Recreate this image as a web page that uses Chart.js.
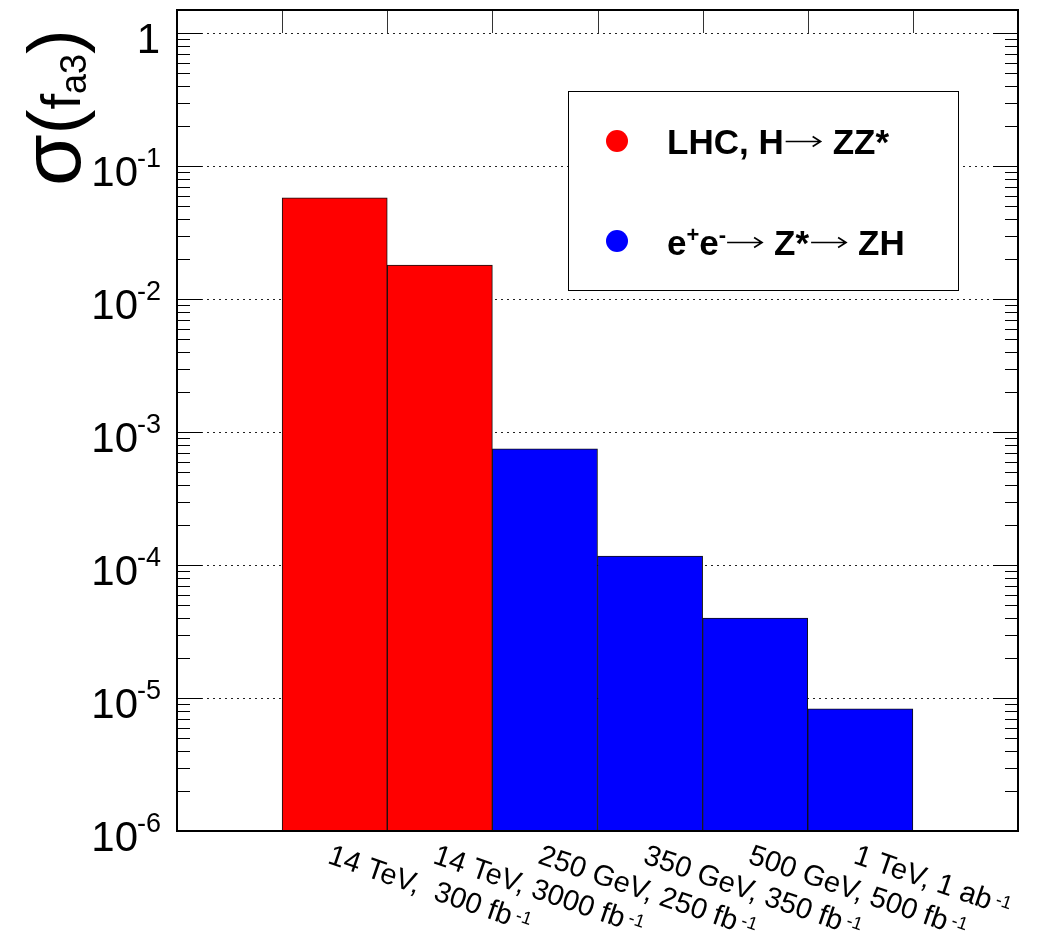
<!DOCTYPE html>
<html>
<head>
<meta charset="utf-8">
<script src="https://cdn.jsdelivr.net/npm/chart.js@4/dist/chart.umd.min.js"></script>
<style>
  body { margin: 0; background: #fff; }
</style>
</head>
<body>
<canvas id="myChart" width="1048" height="934"></canvas>
<script>
// bins: first and last are empty
var categories = ['', '14 TeV,  300 fb', '14 TeV, 3000 fb', '250 GeV, 250 fb', '350 GeV, 350 fb', '500 GeV, 500 fb', '1 TeV, 1 ab', ''];
var categorySup = ['', '-1', '-1', '-1', '-1', '-1', '-1', ''];
var lhcValues = [null, 0.058, 0.0181, null, null, null, null, null];
var eeValues = [null, null, null, 7.5e-4, 1.17e-4, 4.0e-5, 8.3e-6, null];
var yDecades = [0, -1, -2, -3, -4, -5, -6];

var FONT = '"Liberation Sans", Arial, sans-serif';

// draw a sequence of text pieces with their own font and vertical shift;
// a piece with arrow:true is a thin drawn arrow instead of text
function drawRuns(ctx, runs, x, y) {
    runs.forEach(function(r) {
        if (r.arrow) {
            var ay = y - 12.5;
            ctx.save();
            ctx.strokeStyle = '#000';
            ctx.lineWidth = 1.6;
            ctx.beginPath();
            ctx.moveTo(x, ay); ctx.lineTo(x + r.arrow, ay);
            ctx.moveTo(x + r.arrow - 8, ay - 5); ctx.lineTo(x + r.arrow, ay); ctx.lineTo(x + r.arrow - 8, ay + 5);
            ctx.stroke();
            ctx.restore();
            x += r.arrow + (r.gap || 0);
            return;
        }
        ctx.font = r.font;
        ctx.fillText(r.t, x, y + (r.dy || 0));
        x += ctx.measureText(r.t).width + (r.gap || 0);
    });
}

var axesPlugin = {
    id: 'rootAxes',
    beforeDatasetsDraw: function(chart) {
        var ctx = chart.ctx, a = chart.chartArea, ys = chart.scales.y;
        ctx.save();
        ctx.strokeStyle = '#222';
        ctx.lineWidth = 1;
        ctx.setLineDash([2, 4]);
        yDecades.forEach(function(e) {
            if (e === -6) return;
            var y = Math.round(ys.getPixelForValue(Math.pow(10, e))) + 0.5;
            ctx.beginPath();
            ctx.moveTo(a.left, y);
            ctx.lineTo(a.right, y);
            ctx.stroke();
        });
        ctx.restore();
    },
    afterDatasetsDraw: function(chart) {
        var ctx = chart.ctx, a = chart.chartArea, ys = chart.scales.y, xs = chart.scales.x;
        ctx.save();

        // y ticks, both sides
        ctx.strokeStyle = '#000';
        ctx.lineWidth = 1;
        yDecades.forEach(function(e) {
            for (var m = 1; m <= 9; m++) {
                var v = m * Math.pow(10, e);
                if (v > ys.max || v < ys.min) continue;
                var y = Math.round(ys.getPixelForValue(v)) + 0.5;
                var len = m === 1 ? 25 : 13;
                ctx.beginPath();
                ctx.moveTo(a.left, y); ctx.lineTo(a.left + len, y);
                ctx.moveTo(a.right, y); ctx.lineTo(a.right - len, y);
                ctx.stroke();
            }
        });

        // x ticks on top at bin edges
        ctx.strokeStyle = '#333';
        for (var i = 1; i < categories.length; i++) {
            var xe = Math.round((xs.getPixelForValue(i - 1) + xs.getPixelForValue(i)) / 2) + 0.5;
            ctx.beginPath();
            ctx.moveTo(xe, a.top); ctx.lineTo(xe, a.top + 23);
            ctx.stroke();
        }

        // frame
        ctx.strokeStyle = '#000';
        ctx.lineWidth = 2;
        ctx.strokeRect(a.left, a.top, a.right - a.left, a.bottom - a.top);

        // y tick labels
        ctx.fillStyle = '#000';
        ctx.textBaseline = 'alphabetic';
        yDecades.forEach(function(e) {
            var y = ys.getPixelForValue(Math.pow(10, e));
            ctx.textAlign = 'right';
            ctx.font = '42px ' + FONT;
            if (e === 0) {
                ctx.fillText('1', 160, y + 20);
                return;
            }
            ctx.fillText('10', 138, y + 20);
            ctx.textAlign = 'left';
            ctx.font = '27px ' + FONT;
            ctx.fillText(String(e), 137, y + 1);
        });

        // x labels, slanted down to the right
        ctx.textAlign = 'left';
        categories.forEach(function(c, i) {
            if (!c) return;
            ctx.save();
            ctx.translate(xs.getPixelForValue(i) - 1, a.bottom + 11);
            ctx.rotate(19 * Math.PI / 180);
            drawRuns(ctx, [
                { t: c, font: '29px ' + FONT, gap: 4 },
                { t: categorySup[i], font: '18px ' + FONT, dy: -7 }
            ], 0, 22);
            ctx.restore();
        });

        // y title
        ctx.save();
        ctx.translate(80, 186);
        ctx.rotate(-Math.PI / 2);
        drawRuns(ctx, [
            { t: 'σ', font: '84px ' + FONT },
            { t: '(', font: '74px ' + FONT },
            { t: 'f', font: '56px ' + FONT },
            { t: 'a3', font: '36px ' + FONT, dy: 6 },
            { t: ')', font: '74px ' + FONT }
        ], 0, 0);
        ctx.restore();

        // legend
        ctx.fillStyle = '#fff';
        ctx.fillRect(568, 91, 390, 199);
        ctx.strokeStyle = '#000';
        ctx.lineWidth = 1;
        ctx.strokeRect(568.5, 91.5, 390, 199);
        var colors = ['#ff0000', '#0000ff'];
        var dotY = [141, 241];
        colors.forEach(function(col, k) {
            ctx.fillStyle = col;
            ctx.beginPath();
            ctx.arc(617, dotY[k], 11, 0, Math.PI * 2);
            ctx.fill();
        });
        ctx.fillStyle = '#000';
        var bold = 'bold 35px ' + FONT;
        var sup = 'bold 22px ' + FONT;
        drawRuns(ctx, [
            { t: 'LHC, H', font: bold, gap: 2 },
            { arrow: 35, gap: 12 },
            { t: 'ZZ*', font: bold }
        ], 667, 154);
        drawRuns(ctx, [
            { t: 'e', font: bold },
            { t: '+', font: sup, dy: -13 },
            { t: 'e', font: bold },
            { t: '-', font: sup, dy: -13, gap: 1 },
            { arrow: 35, gap: 12 },
            { t: 'Z*', font: bold, gap: 2 },
            { arrow: 35, gap: 12 },
            { t: 'ZH', font: bold }
        ], 667, 255);

        ctx.restore();
    }
};

var ctx = document.getElementById('myChart').getContext('2d');
var myChart = new Chart(ctx, {
    type: 'bar',
    data: {
        labels: categories,
        datasets: [{
            label: 'LHC, H→ ZZ*',
            data: lhcValues,
            backgroundColor: '#ff0000',
            borderColor: '#111',
            borderWidth: 1,
            borderSkipped: false,
            grouped: false,
            barPercentage: 1,
            categoryPercentage: 1
        }, {
            label: 'e+e-→ Z*→ ZH',
            data: eeValues,
            backgroundColor: '#0000ff',
            borderColor: '#111',
            borderWidth: 1,
            borderSkipped: false,
            grouped: false,
            barPercentage: 1,
            categoryPercentage: 1
        }]
    },
    options: {
        responsive: false,
        animation: false,
        devicePixelRatio: 1,
        layout: { padding: { left: 177, top: 10, right: 30, bottom: 103 } },
        plugins: { legend: { display: false }, tooltip: { enabled: false } },
        scales: {
            x: { display: false, offset: true },
            y: { type: 'logarithmic', display: false, min: 1e-6, max: 1.5 }
        }
    },
    plugins: [axesPlugin]
});
</script>
</body>
</html>
